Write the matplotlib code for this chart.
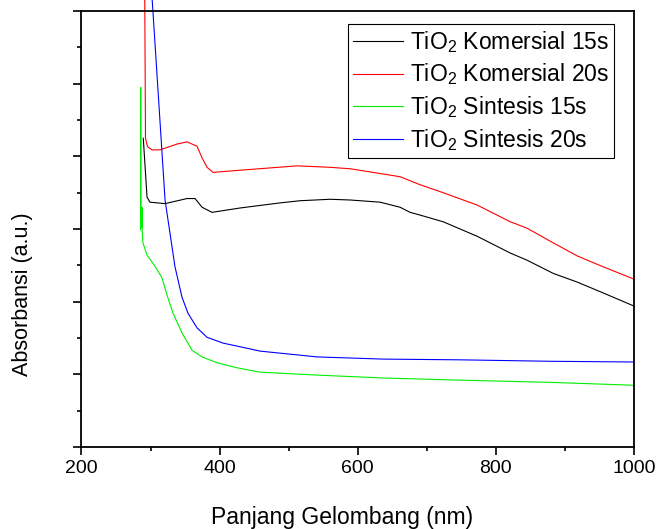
import matplotlib
matplotlib.use("Agg")
import matplotlib.pyplot as plt
from matplotlib.ticker import MultipleLocator, NullFormatter

plt.rcParams['font.family'] = ['Liberation Sans', 'DejaVu Sans']
plt.rcParams['mathtext.fontset'] = 'custom'
plt.rcParams['mathtext.rm'] = 'Liberation Sans'
plt.rcParams['mathtext.it'] = 'Liberation Sans:italic'

# Data (wavelength in nm, absorbance in a.u.)
kom15_x = [289.5, 294.9, 299.2, 321.0, 352.8, 364.4, 374.6, 389.0, 429.6, 487.5,
           516.5, 560.0, 589.0, 632.4, 661.4, 675.8, 687.5, 723.8, 773.0, 820.8,
           845.4, 883.0, 917.8, 955.5, 997.5, 1000.0]
kom15_y = [4.25, 3.44, 3.37, 3.35, 3.42, 3.42, 3.30, 3.23, 3.29, 3.36,
           3.39, 3.41, 3.40, 3.37, 3.30, 3.23, 3.20, 3.10, 2.90, 2.67,
           2.57, 2.39, 2.27, 2.12, 1.95, 1.94]

kom20_x = [291.5, 292.7, 294.9, 296.3, 302.0, 313.7, 338.3, 352.8, 367.3, 374.6,
           381.8, 390.5, 429.6, 512.2, 560.0, 589.0, 622.3, 661.4, 687.5, 723.8,
           773.0, 820.8, 829.4, 845.4, 883.0, 917.8, 955.5, 1000.0]
kom20_y = [6.40, 4.25, 4.16, 4.13, 4.09, 4.09, 4.17, 4.20, 4.14, 3.98,
           3.85, 3.78, 3.81, 3.87, 3.85, 3.83, 3.78, 3.72, 3.62, 3.50,
           3.33, 3.10, 3.07, 3.01, 2.81, 2.63, 2.48, 2.31]

sin15_x = [285.5, 285.8, 286.2, 287.3, 287.6, 288.0, 289.0, 294.9, 303.6, 316.6,
           323.9, 332.6, 345.6, 360.1, 374.6, 396.3, 425.3, 458.6, 541.1, 636.8,
           748.3, 878.7, 1000.0]
sin15_y = [2.99, 4.95, 3.05, 3.02, 3.30, 2.95, 2.81, 2.64, 2.53, 2.33,
           2.09, 1.84, 1.57, 1.33, 1.24, 1.16, 1.09, 1.03, 0.99, 0.95,
           0.92, 0.89, 0.85]

sin20_x = [300.5, 302.9, 310.8, 321.0, 328.2, 335.4, 345.6, 354.3, 367.3, 381.8,
           405.0, 429.6, 458.6, 541.1, 636.8, 748.3, 878.7, 1000.0]
sin20_y = [6.40, 6.08, 4.91, 3.40, 2.94, 2.48, 2.06, 1.84, 1.64, 1.51,
           1.43, 1.38, 1.32, 1.24, 1.21, 1.20, 1.18, 1.17]

labels = ['TiO$_2$ Komersial 15s', 'TiO$_2$ Komersial 20s',
          'TiO$_2$ Sintesis 15s', 'TiO$_2$ Sintesis 20s']
colors = ['#000000', '#ff0000', '#00ee00', '#0000ff']

fig = plt.figure(figsize=(6.56, 5.29), dpi=100)
ax = fig.add_axes([0.1242, 0.155, 0.8423, 0.824])

series = [(kom15_x, kom15_y), (kom20_x, kom20_y), (sin15_x, sin15_y), (sin20_x, sin20_y)]
for (x, y), lab, c in zip(series, labels, colors):
    ax.plot(x, y, color=c, lw=0.8, label=lab, clip_on=False)

ax.set_xlim(200, 1000)
ax.set_ylim(0, 6)
ax.xaxis.set_major_locator(MultipleLocator(200))
ax.xaxis.set_minor_locator(MultipleLocator(100))
ax.yaxis.set_major_locator(MultipleLocator(1))
ax.yaxis.set_minor_locator(MultipleLocator(0.5))
ax.yaxis.set_major_formatter(NullFormatter())
ax.tick_params(which='both', direction='out', width=1.2, labelsize=14)
ax.tick_params(which='major', length=6)
ax.tick_params(which='minor', length=3)
for s in ax.spines.values():
    s.set_linewidth(1.3)

ax.set_xlabel('Panjang Gelombang (nm)', fontsize=16.5)
ax.set_ylabel('Absorbansi (a.u.)', fontsize=15.5)
ax.xaxis.set_label_coords(0.472, -0.135)
ax.yaxis.set_label_coords(-0.088, 0.351)

leg = ax.legend(loc='upper right', bbox_to_anchor=(0.9638, 0.97), fontsize=16.5,
                frameon=True, fancybox=False, framealpha=1, edgecolor='black',
                handlelength=2.2, handletextpad=0.3, borderpad=0.2,
                labelspacing=0.3, borderaxespad=0)
leg.get_frame().set_linewidth(0.8)

fig.savefig('out.png', dpi=100)
